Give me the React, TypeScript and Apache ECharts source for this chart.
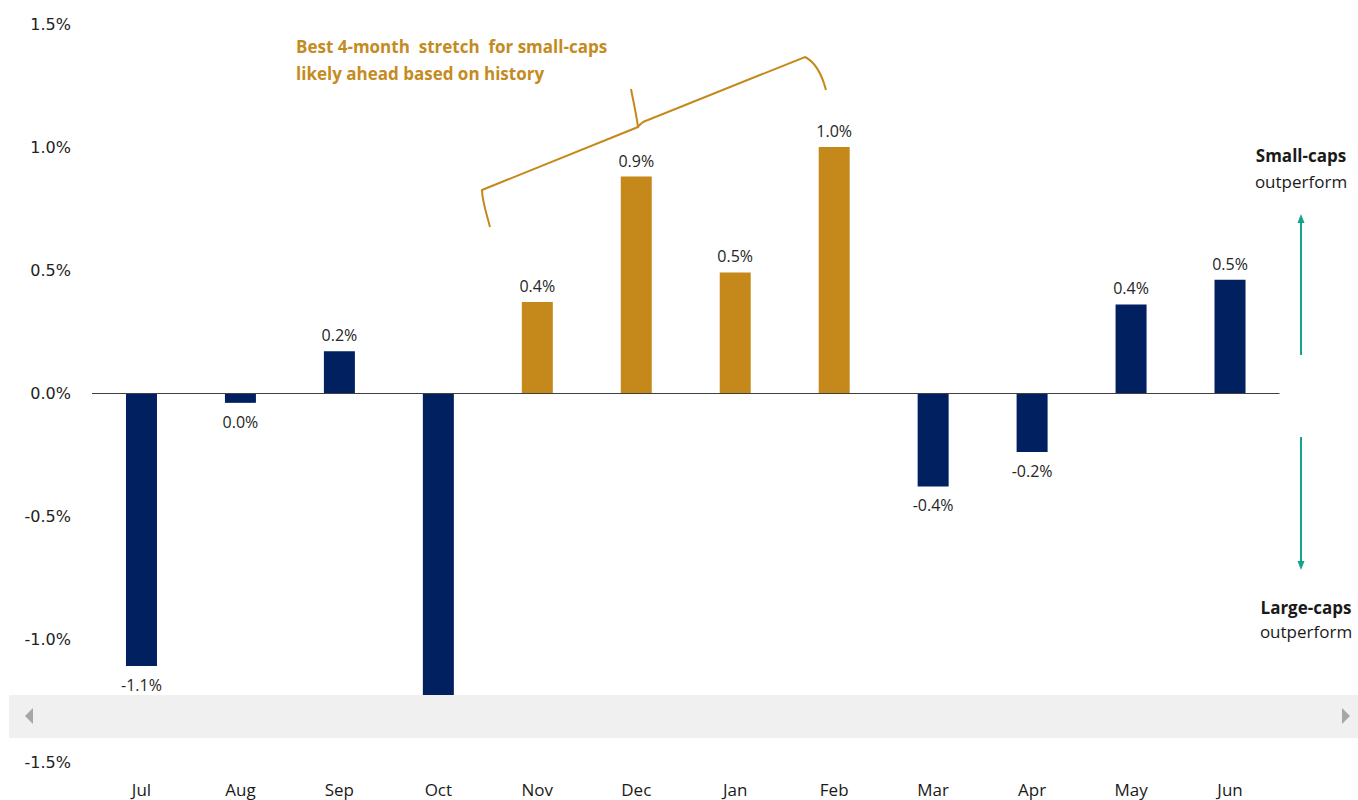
import React, { useEffect, useRef } from "react";
import * as echarts from "echarts";

const months = ["Jul", "Aug", "Sep", "Oct", "Nov", "Dec", "Jan", "Feb", "Mar", "Apr", "May", "Jun"];
const relativeReturn = [-1.11, -0.04, 0.17, -1.28, 0.37, 0.88, 0.49, 1.0, -0.38, -0.24, 0.36, 0.46];
const highlighted = [false, false, false, false, true, true, true, true, false, false, false, false];
const yTicks = { min: -1.5, max: 1.5, interval: 0.5 };
const annotationLines = ["Best 4-month  stretch  for small-caps", "likely ahead based on history"];

const NAVY = "#002060";
const GOLD = "#C4891A";
const GOLD_TEXT = "#C48B22";
const TEAL = "#14A38B";

const bracePath =
  "M490,227 C486,212 482,200 482,190 L638,127 C636,112 633,100 631,89 M638,127 C641,123 644,121 648,120 L805,57 C815,62 822,75 826,90";

export default function App() {
  const ref = useRef<HTMLDivElement>(null);
  useEffect(() => {
    document.body.style.margin = "0";
    if (!ref.current) return;
    try {
      echarts.graphic.registerShape("brace", echarts.graphic.extendPath(bracePath, {}) as any);
    } catch (e) {}
    const chart = echarts.init(ref.current, undefined, { renderer: "svg" });
    const data = relativeReturn.map((v, i) => ({
      value: v,
      itemStyle: { color: highlighted[i] ? GOLD : NAVY },
      label: { position: v >= 0 ? "top" : "bottom", distance: v >= 0 ? 8 : 11 },
    }));
    chart.setOption({
      animation: false,
      backgroundColor: "#ffffff",
      grid: { left: 92, right: 78.5, top: 24, bottom: 38 },
      xAxis: {
        type: "category",
        data: months,
        axisLine: { show: false },
        axisTick: { show: false },
        axisLabel: { color: "#1a1a1a", fontSize: 17, fontFamily: "Open Sans", margin: 19 },
      },
      yAxis: {
        type: "value",
        min: yTicks.min,
        max: yTicks.max,
        interval: yTicks.interval,
        axisLine: { show: false },
        axisTick: { show: false },
        splitLine: { show: false },
        axisLabel: {
          color: "#222",
          fontSize: 16,
          fontFamily: "DejaVu Sans",
          margin: 21,
          formatter: (v: number) => v.toFixed(1) + "%",
        },
      },
      series: [
        {
          type: "bar",
          data,
          barWidth: 31,
          label: {
            show: true,
            color: "#262626",
            fontSize: 16,
            fontFamily: "Open Sans",
            formatter: (p: any) => (Math.abs(p.value) < 0.05 ? "0.0" : p.value.toFixed(1)) + "%",
          },
          markLine: {
            silent: true,
            symbol: "none",
            label: { show: false },
            lineStyle: { color: "#404040", width: 1, type: "solid" },
            data: [{ yAxis: 0 }],
          },
        },
      ],
      graphic: [
        {
          type: "brace",
          x: 0,
          y: 0,
          z: 50,
          style: { fill: "none", stroke: GOLD, lineWidth: 2 },
        },
        {
          type: "text",
          left: 296,
          top: 33,
          z: 50,
          style: {
            text: annotationLines.join("\n"),
            fill: GOLD_TEXT,
            font: "bold 17px 'Open Sans'",
            lineHeight: 27,
          },
        },
        {
          type: "text",
          x: 1301,
          y: 155,
          z: 50,
          style: { text: "Small-caps", fill: "#1a1a1a", font: "bold 17px 'Open Sans'", align: "center", verticalAlign: "middle" },
        },
        {
          type: "text",
          x: 1301,
          y: 181,
          z: 50,
          style: { text: "outperform", fill: "#1a1a1a", font: "17px 'Open Sans'", align: "center", verticalAlign: "middle" },
        },
        {
          type: "text",
          x: 1306,
          y: 607,
          z: 50,
          style: { text: "Large-caps", fill: "#1a1a1a", font: "bold 17px 'Open Sans'", align: "center", verticalAlign: "middle" },
        },
        {
          type: "text",
          x: 1306,
          y: 631,
          z: 50,
          style: { text: "outperform", fill: "#1a1a1a", font: "17px 'Open Sans'", align: "center", verticalAlign: "middle" },
        },
        {
          type: "line",
          z: 50,
          shape: { x1: 1301, y1: 355, x2: 1301, y2: 221 },
          style: { stroke: TEAL, lineWidth: 2 },
        },
        {
          type: "polygon",
          z: 50,
          shape: { points: [[1301, 214], [1297.5, 223], [1304.5, 223]] },
          style: { fill: TEAL },
        },
        {
          type: "line",
          z: 50,
          shape: { x1: 1301, y1: 437, x2: 1301, y2: 563 },
          style: { stroke: TEAL, lineWidth: 2 },
        },
        {
          type: "polygon",
          z: 50,
          shape: { points: [[1301, 570], [1297.5, 561], [1304.5, 561]] },
          style: { fill: TEAL },
        },
        {
          type: "rect",
          z: 100,
          shape: { x: 9, y: 695, width: 1349, height: 43 },
          style: { fill: "#f0f0f0" },
        },
        {
          type: "polygon",
          z: 101,
          shape: { points: [[25, 716], [33, 708], [33, 724]] },
          style: { fill: "#a6a6a6" },
        },
        {
          type: "polygon",
          z: 101,
          shape: { points: [[1350, 716], [1342, 708], [1342, 724]] },
          style: { fill: "#a6a6a6" },
        },
      ],
    });
    return () => chart.dispose();
  }, []);
  return <div ref={ref} style={{ position: "fixed", left: 0, top: 0, width: 1358, height: 800 }} />;
}
